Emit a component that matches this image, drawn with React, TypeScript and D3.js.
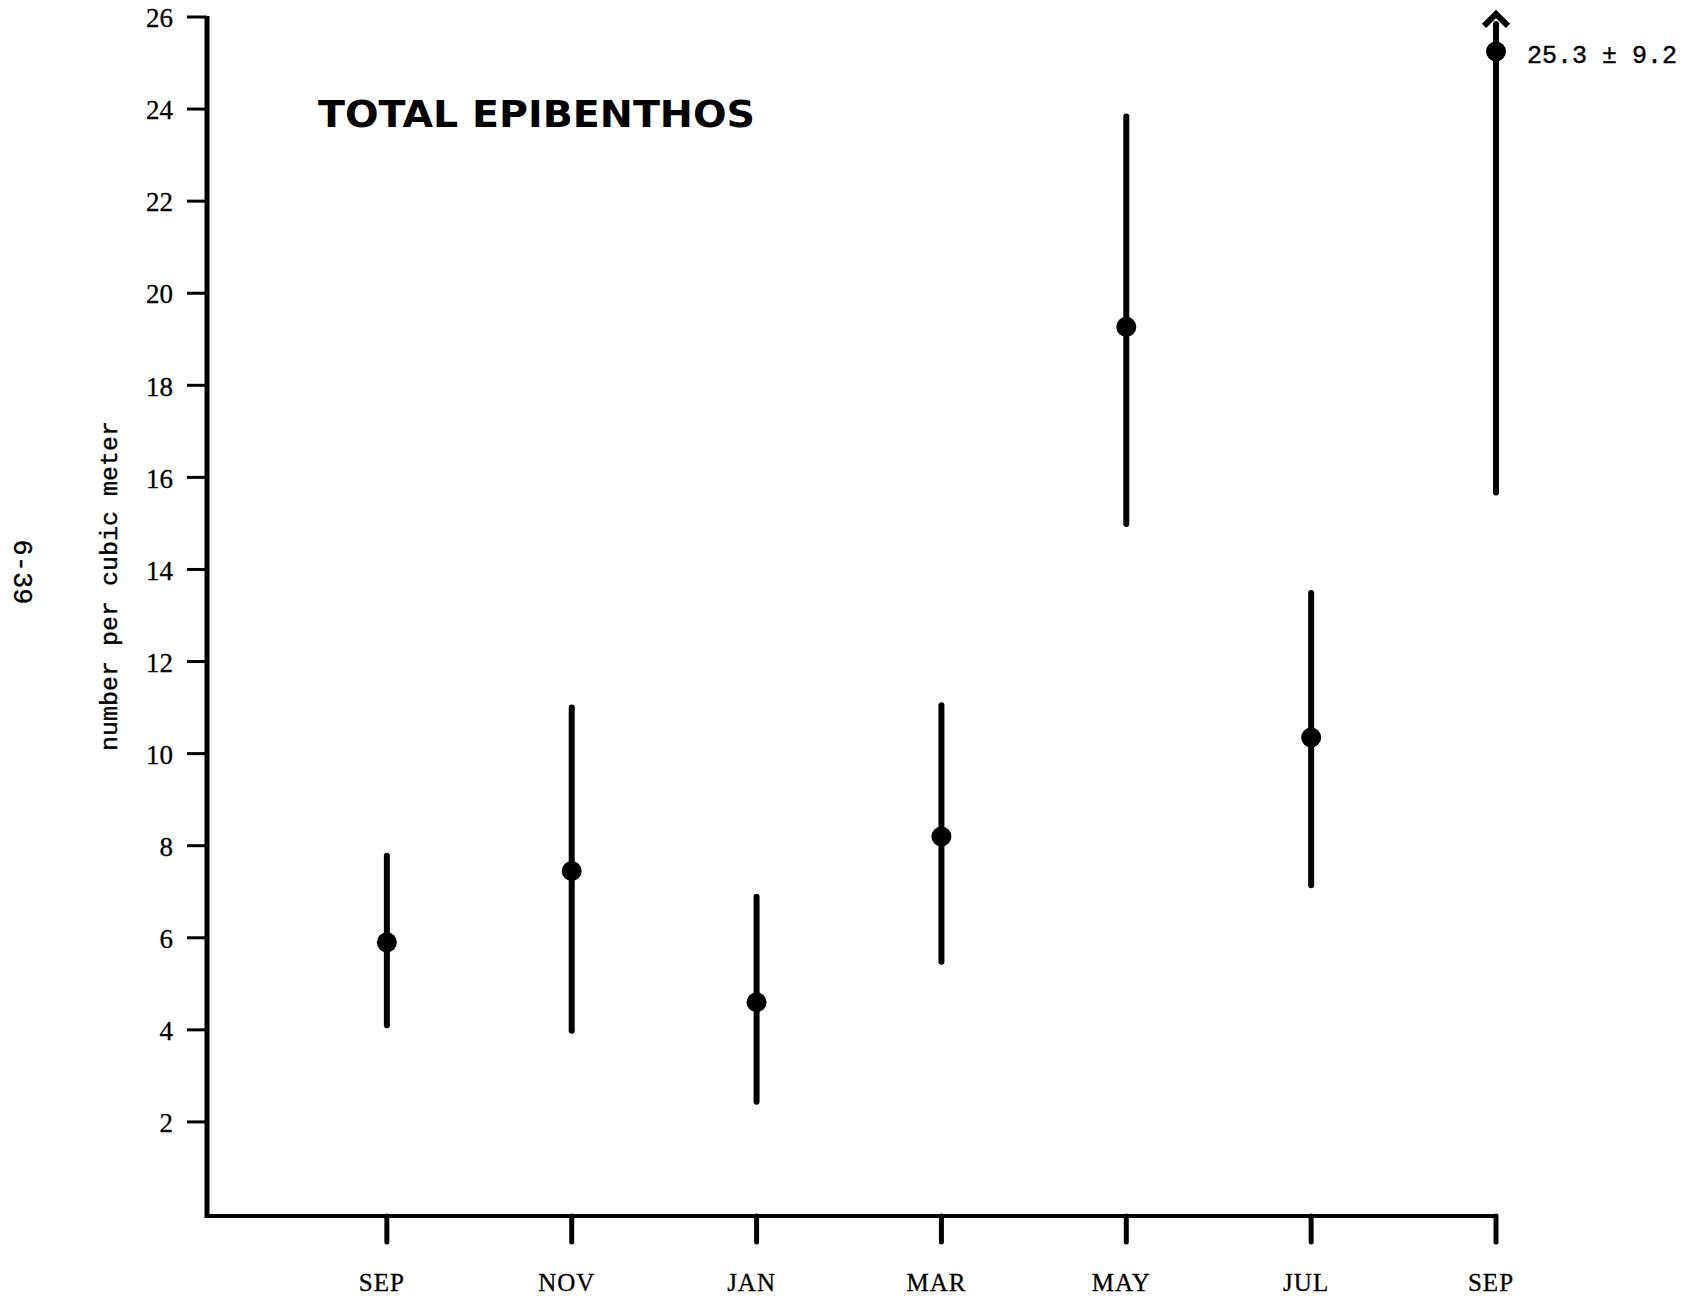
import React from "react";
import * as d3 from "d3";

const months = ["SEP", "NOV", "JAN", "MAR", "MAY", "JUL", "SEP"];
const means = [5.9, 7.45, 4.6, 8.2, 19.27, 10.35, 25.25];
const lower = [4.1, 3.98, 2.44, 5.48, 14.99, 7.14, 15.67];
const upper = [7.78, 11.0, 6.89, 11.05, 23.84, 13.49, 25.85];
const yTicks = [2, 4, 6, 8, 10, 12, 14, 16, 18, 20, 22, 24, 26];
const offChartLabel = "25.3 ± 9.2";
const title = "TOTAL EPIBENTHOS";
const yLabel = "number per cubic meter";
const pageLabel = "6-39";

const W = 1687;
const H = 1298;

export default function App() {
  const y = d3.scaleLinear().domain([0, 26]).range([1214, 17]);
  const x = d3.scaleLinear().domain([-1, 6]).range([202, 1496]);
  const axisX = 207;
  const axisY = 1216;
  const mono = "'Liberation Mono', 'DejaVu Sans Mono', monospace";
  const serif = "'Liberation Serif', 'DejaVu Serif', serif";
  const sans = "'DejaVu Sans', 'Liberation Sans', Arial, sans-serif";
  const last = months.length - 1;
  const ax = x(last);
  const tipY = y(upper[last]) - 10;
  return (
    <svg
      width={W}
      height={H}
      viewBox={`0 0 ${W} ${H}`}
      style={{ position: "absolute", left: 0, top: 0, background: "#fff" }}
    >
      <rect x={0} y={0} width={W} height={H} fill="#fff" />
      {/* axes */}
      <line x1={axisX} y1={y(26) - 1} x2={axisX} y2={axisY + 2} stroke="#000" strokeWidth={5} />
      <line x1={axisX - 2} y1={axisY} x2={x(last) + 2} y2={axisY} stroke="#000" strokeWidth={4} />
      {yTicks.map((t) => (
        <g key={t}>
          <line x1={axisX - 20} y1={y(t)} x2={axisX} y2={y(t)} stroke="#000" strokeWidth={3} />
          <text
            x={173}
            y={y(t)}
            dy="0.38em"
            textAnchor="end"
            fontFamily={serif}
            fontSize={27}
            fill="#000"
            stroke="#000"
            strokeWidth={0.3}
          >
            {t}
          </text>
        </g>
      ))}
      {months.map((m, i) => (
        <g key={i}>
          <line x1={x(i)} y1={axisY} x2={x(i)} y2={axisY + 26} stroke="#000" strokeWidth={5} strokeLinecap="round" />
          <text
            x={x(i) - 5}
            y={1291}
            textAnchor="middle"
            fontFamily={serif}
            fontSize={25}
            letterSpacing={1}
            fill="#000"
            stroke="#000"
            strokeWidth={0.3}
          >
            {m}
          </text>
        </g>
      ))}
      {/* error bars */}
      {means.map((m, i) => (
        <g key={i}>
          <line
            x1={x(i)}
            x2={x(i)}
            y1={y(lower[i])}
            y2={y(upper[i])}
            stroke="#000"
            strokeWidth={6}
            strokeLinecap="round"
          />
          <circle cx={x(i)} cy={y(m)} r={10} fill="#000" />
        </g>
      ))}
      {/* arrow for off-chart upper bound */}
      <path
        d={`M${ax - 12},${tipY + 12} L${ax},${tipY} L${ax + 12},${tipY + 12}`}
        fill="none"
        stroke="#000"
        strokeWidth={6}
        strokeLinejoin="miter"
      />
      <text x={1527} y={63} fontFamily={mono} fontSize={25} fill="#000" stroke="#000" strokeWidth={0.4}>
        {offChartLabel}
      </text>
      {/* title */}
      <text
        x={318}
        y={127}
        fontFamily={sans}
        fontSize={38}
        fontWeight="bold"
        textLength={437}
        lengthAdjust="spacingAndGlyphs"
        fill="#000"
      >
        {title}
      </text>
      {/* y axis label */}
      <text
        transform={`translate(117,586) rotate(-90)`}
        textAnchor="middle"
        fontFamily={mono}
        fontSize={24}
        textLength={330}
        lengthAdjust="spacingAndGlyphs"
        fill="#000"
        stroke="#000"
        strokeWidth={0.4}
      >
        {yLabel}
      </text>
      <text
        transform={`translate(14,572) rotate(90)`}
        textAnchor="middle"
        fontFamily={mono}
        fontSize={27}
        fill="#000"
        stroke="#000"
        strokeWidth={0.3}
      >
        {pageLabel}
      </text>
    </svg>
  );
}
